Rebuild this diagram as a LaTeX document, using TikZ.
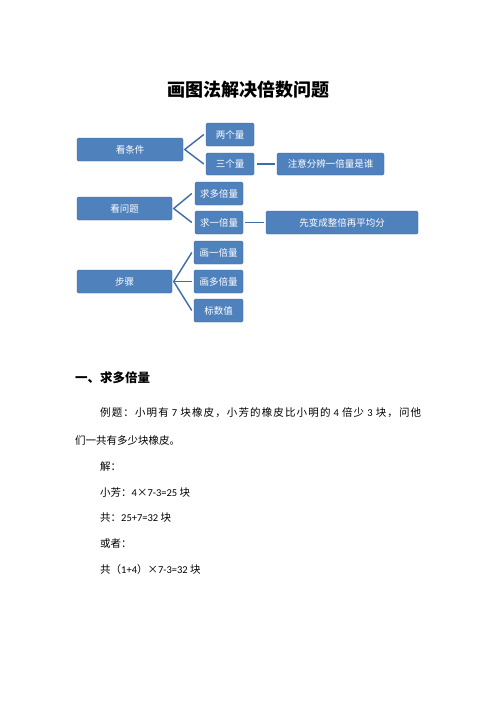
\documentclass[tikz,border=0pt]{standalone}
\usepackage{fontspec}
\setmainfont{Noto Sans CJK SC}
\newfontfamily\cjk{Noto Sans CJK SC}
\newfontfamily\lat{Carlito}
\definecolor{boxblue}{HTML}{4F81BD}
\definecolor{lineblue}{HTML}{3D6CA6}
\newcommand\sg{\hskip 0pt plus 1fil\relax}
\newcommand\sd{\hskip 2pt plus 1fil\relax}
\tikzset{
  bx/.style={draw=boxblue!80!black, line width=0.4pt, fill=boxblue, rounded corners=1.5pt, text=white, font=\cjk\fontsize{9.5}{11}\selectfont, inner sep=0pt, anchor=center},
  conn/.style={draw=lineblue, line width=1.4pt},
  txt/.style={anchor=west, inner sep=0pt, font=\cjk\fontsize{10.5}{12}\selectfont},
}
\begin{document}
\begin{tikzpicture}[x=1pt,y=-1pt]
\useasboundingbox (0,0) rectangle (496,702);
\fill[white] (0,0) rectangle (496,702);
% title
\node[inner sep=0pt, font=\cjk\bfseries\fontsize{18}{20}\selectfont] (title) at (248,90) {画图法解决倍数问题};
% boxes
\node[bx, minimum width=106, minimum height=23] (c1) at (130,149.5) {看条件};
\node[bx, minimum width=48, minimum height=23] (c2) at (230,134.5) {两个量};
\node[bx, minimum width=48, minimum height=22] (c3) at (230,164) {三个量};
\node[bx, minimum width=107, minimum height=22] (c4) at (330.5,164) {注意分辨一倍量是谁};
\node[bx, minimum width=95, minimum height=23] (q1) at (124.5,208.5) {看问题};
\node[bx, minimum width=48, minimum height=23] (q2) at (219,193.5) {求多倍量};
\node[bx, minimum width=48, minimum height=23] (q3) at (219,222.5) {求一倍量};
\node[bx, minimum width=152, minimum height=23] (q4) at (342,222.5) {先变成整倍再平均分};
\node[bx, minimum width=95, minimum height=23] (s1) at (124.5,281.5) {步骤};
\node[bx, minimum width=49, minimum height=23] (s2) at (218.5,252.5) {画一倍量};
\node[bx, minimum width=49, minimum height=23] (s3) at (218.5,281.5) {画多倍量};
\node[bx, minimum width=49, minimum height=23] (s4) at (218.5,310.5) {标数值};
% connectors
\coordinate (c1o) at ([xshift=1.5]c1.east);
\draw[conn] ([xshift=-2]c2.west) -- (c1o) -- ([xshift=-2]c3.west);
\draw[conn] ([xshift=3]c3.east) -- ([xshift=-2]c4.west);
\coordinate (q1o) at ([xshift=1.5]q1.east);
\draw[conn] ([xshift=-3]q2.west) -- (q1o) -- ([xshift=-3]q3.west);
\draw[conn] ([xshift=2]q3.east) -- ([xshift=-2]q4.west);
\coordinate (s1o) at ([xshift=1.5]s1.east);
\draw[conn] ([xshift=-2]s2.west) -- (s1o) -- ([xshift=-2]s4.west);
\draw[conn] (s1o) -- ([xshift=-2]s3.west);
% body text
\node[txt, font=\cjk\bfseries\fontsize{12.5}{14}\selectfont] (h1) at (75,378) {一、求多倍量};
\node[txt] (p1) at (100,413) {\makebox[321pt][s]{例\sg 题\sg ：\sg 小\sg 明\sg 有\sd{\lat 7}\sd 块\sg 橡\sg 皮\sg ，\sg 小\sg 芳\sg 的\sg 橡\sg 皮\sg 比\sg 小\sg 明\sg 的\sd{\lat 4}\sd 倍\sg 少\sd{\lat 3}\sd 块\sg ，\sg 问\sg 他}};
\node[txt] (p2) at (75,440) {们一共有多少块橡皮。};
\node[txt] (p3) at (100,467) {解：};
\node[txt] (p4) at (100,493) {小芳：{\lat 4}×{\lat 7-3=25} 块};
\node[txt] (p5) at (100,518) {共：{\lat 25+7=32} 块};
\node[txt] (p6) at (100,544) {或者：};
\node[txt] (p7) at (100,570) {共（{\lat 1+4}）×{\lat 7-3=32} 块};
\end{tikzpicture}
\end{document}
